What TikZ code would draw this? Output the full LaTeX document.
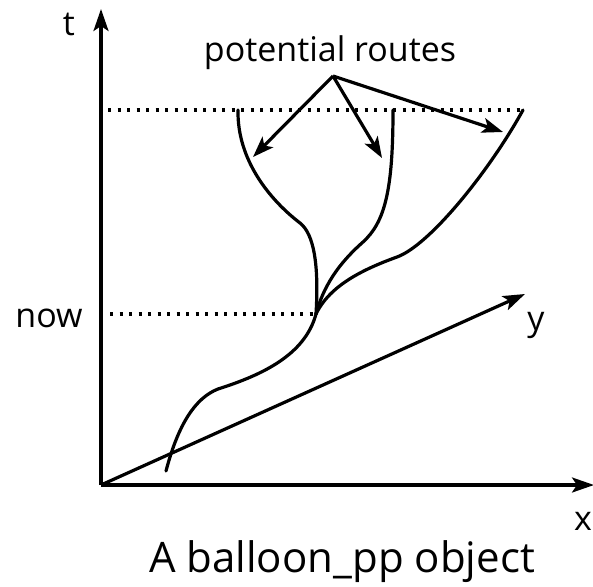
\documentclass[tikz,border=0pt]{standalone}
\usepackage{fontspec}
\setmainfont{Open Sans}
\usetikzlibrary{arrows.meta, positioning}
\tikzset{
    >=Stealth,
    bal_axis/.style={
        -{Stealth[length=22pt, width=15pt, inset=5pt]},
        line width=3.2pt
    },
    bal_route/.style={
        line width=3.2pt,
        line cap=round
    },
    bal_hint/.style={
        -{Stealth[length=21pt, width=15pt, inset=5pt]},
        line width=3.2pt
    },
    bal_level/.style={
        line width=3.2pt,
        dash pattern=on 3.2pt off 6.3pt
    },
    bal_label/.style={
        inner sep=0pt,
        anchor=base,
        font=\fontsize{34}{40}\selectfont
    },
    bal_caption/.style={
        inner sep=0pt,
        anchor=base,
        font=\fontsize{42}{48}\selectfont
    }
}

\begin{document}
\begin{tikzpicture}[x=1pt, y=-1pt]
\useasboundingbox (0,0) rectangle (593,586);

% --- Axes ---
\coordinate (origin) at (101,485);
\coordinate (tEnd) at (101,9);
\coordinate (xEnd) at (594,485);
\coordinate (yEnd) at (525,294);
\draw[bal_axis] (origin) -- (tEnd);
\draw[bal_axis] (origin) -- (xEnd);
\draw[bal_axis] (origin) -- (yEnd);
\node[bal_label] (tLabel) at (69,35) {t};
\node[bal_label] (xLabel) at (583,530) {x};
\node[bal_label] (yLabel) at (536,330) {y};

% --- Time levels ---
\coordinate (nowStart) at (110,314);
\coordinate (junction) at (316,314);
\coordinate (topStart) at (108,110);
\coordinate (topEnd) at (524,110);
\draw[bal_level] (nowStart) -- (junction);
\draw[bal_level] (topStart) -- (topEnd);
\node[bal_label] (nowLabel) at (49,327) {now};

% --- Past route ---
\coordinate (pastStart) at (166,471);
\coordinate (pastBend) at (218,389);
\draw[bal_route] (pastStart) .. controls (178,425) and (195,398) .. (pastBend)
    .. controls (262,375) and (305,355) .. (junction);

% --- Potential routes ---
\coordinate (leftTop) at (238,110);
\coordinate (midTop) at (393,110);
\coordinate (rightTop) at (523,110);
\draw[bal_route] (junction) .. controls (319,265) and (314,234) .. (300,223)
    .. controls (270,200) and (237,160) .. (leftTop);
\draw[bal_route] (junction) .. controls (325,280) and (345,258) .. (363,242)
    .. controls (385,222) and (393,190) .. (midTop);
\draw[bal_route] (junction) .. controls (330,285) and (364,269) .. (397,257)
    .. controls (430,245) and (490,170) .. (rightTop);

% --- Label and pointers ---
\node[bal_label] (routesLabel) at (330,61) {potential routes};
\coordinate (routesFrom) at (333,76);
\coordinate (leftTip) at (253,157);
\coordinate (midTip) at (382,158);
\coordinate (rightTip) at (503,132);
\draw[bal_hint] (routesFrom) -- (leftTip);
\draw[bal_hint] (routesFrom) -- (midTip);
\draw[bal_hint] (routesFrom) -- (rightTip);

% --- Caption ---
\node[bal_caption] (caption) at (342,572) {A balloon\_pp object};

\end{tikzpicture}
\end{document}
